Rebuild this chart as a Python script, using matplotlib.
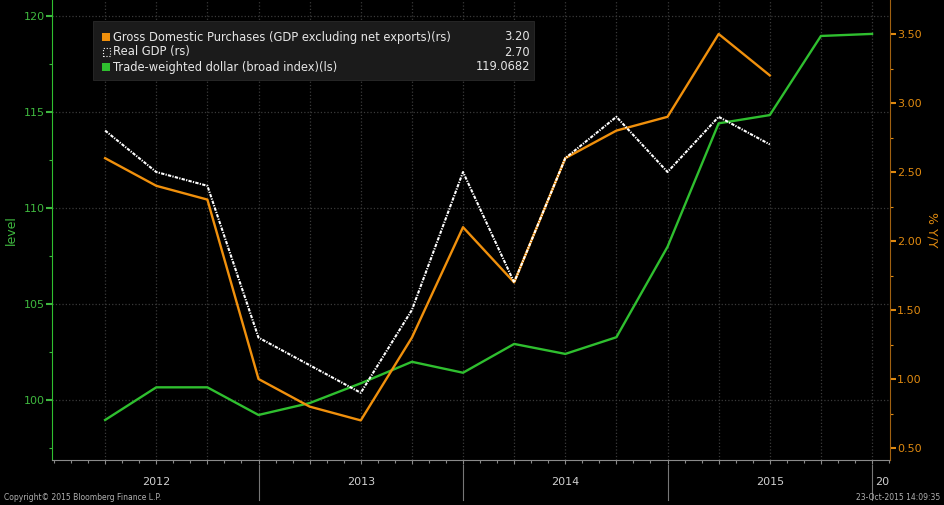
import matplotlib
matplotlib.use("Agg")
import matplotlib.pyplot as plt
from matplotlib.patches import Rectangle
from matplotlib.ticker import MultipleLocator

# quarterly data, points sit at quarter end
quarters = ['2012Q1', '2012Q2', '2012Q3', '2012Q4',
            '2013Q1', '2013Q2', '2013Q3', '2013Q4',
            '2014Q1', '2014Q2', '2014Q3', '2014Q4',
            '2015Q1', '2015Q2', '2015Q3', '2015Q4']
gdp_purchases = [2.6, 2.4, 2.3, 1.0, 0.8, 0.7, 1.3, 2.1, 1.7, 2.6, 2.8, 2.9, 3.5, 3.2]
real_gdp = [2.8, 2.5, 2.4, 1.3, 1.1, 0.9, 1.5, 2.5, 1.7, 2.6, 2.9, 2.5, 2.9, 2.7]
dollar = [98.96, 100.66, 100.66, 99.22, 99.84, 100.87, 101.99, 101.42,
          102.92, 102.40, 103.27, 107.98, 114.41, 114.84, 118.96, 119.0682]
years = [2012, 2013, 2014, 2015]

legend_names = ["Gross Domestic Purchases (GDP excluding net exports)(rs)",
                "Real GDP (rs)",
                "Trade-weighted dollar (broad index)(ls)"]
legend_values = ["3.20", "2.70", "119.0682"]

x = [int(q[:4]) + 0.25 * int(q[-1]) for q in quarters]

GREEN = '#2fbf2f'
GREEN_TXT = '#3fb83f'
ORANGE = '#f0900c'
ORANGE_TXT = '#e08a10'
GRID = '#3a3a3a'

plt.rcParams['font.family'] = ['DejaVu Sans']
W, H = 944, 505
fig = plt.figure(figsize=(W / 100, H / 100), dpi=100, facecolor='black')
ax = fig.add_axes([52 / W, 1 - 460 / H, (890 - 52) / W, 460 / H])
ax.set_facecolor('black')
ax2 = ax.twinx()
ax2.patch.set_visible(False)

ax.plot(x, dollar, color=GREEN, lw=1.7, zorder=3)
ax2.plot(x[:len(gdp_purchases)], gdp_purchases, color=ORANGE, lw=1.7, zorder=3)
ax2.plot(x[:len(real_gdp)], real_gdp, color='white', lw=1.5,
         dashes=[1.6, 0.6, 0.6, 0.6], zorder=4)

ax.set_xlim(2012 - 2 / 205, 2012 + 838 / 205)
ax.set_ylim(100 - 60 / 19.2, 120 + 16 / 19.2)
ax2.set_ylim(0.5 - 12 / 138, 3.5 + 34 / 138)

# grid
ax.set_xticks(x)
ax.xaxis.set_minor_locator(MultipleLocator(1 / 12))
ax.set_yticks([100, 105, 110, 115, 120])
ax.yaxis.set_minor_locator(MultipleLocator(2.5))
ax.grid(True, which='major', color=GRID, linestyle=':', lw=0.9)
ax.tick_params(axis='x', which='both', labelbottom=False, color='#888888',
               length=3, width=0.8)
ax.tick_params(axis='x', which='minor', length=2)
ax.tick_params(axis='y', which='major', colors=GREEN_TXT, labelsize=8,
               length=4, width=1.5, pad=1)
ax.tick_params(axis='y', which='minor', color=GREEN_TXT, length=2, width=0.8)

ax2.set_yticks([0.5, 1.0, 1.5, 2.0, 2.5, 3.0, 3.5])
ax2.set_yticklabels(['%.2f' % v for v in ax2.get_yticks()])
ax2.yaxis.set_minor_locator(MultipleLocator(0.25))
ax2.tick_params(axis='y', which='major', colors=ORANGE_TXT, labelsize=8,
                length=4, width=1.5, pad=1)
ax2.tick_params(axis='y', which='minor', color=ORANGE_TXT, length=2, width=0.8)

for a in (ax, ax2):
    for s in a.spines.values():
        s.set_visible(False)
ax.spines['left'].set_visible(True)
ax.spines['left'].set_color(GREEN)
ax.spines['bottom'].set_visible(True)
ax.spines['bottom'].set_color('#8a8a8a')
ax2.spines['right'].set_visible(True)
ax2.spines['right'].set_color('#a06010')

ax.set_ylabel('level', color=GREEN_TXT, fontsize=9, labelpad=4)
ax2.set_ylabel('% Y/Y', color=ORANGE_TXT, fontsize=9, rotation=270, labelpad=12)

# year labels and separators below the axis
trans = ax.get_xaxis_transform()
for yr in years:
    ax.text(yr + 0.5, -0.048, str(yr), transform=trans, ha='center', va='center',
            color='#cfcfcf', fontsize=8)
for yr in years:
    ax.plot([yr + 1, yr + 1], [-0.011, -0.087], transform=trans, color='#777777',
            lw=0.8, clip_on=False)
ax.text(2016 + 3 / 205, -0.048, '20', transform=trans, ha='left', va='center',
        color='#cfcfcf', fontsize=8)

# legend box
def fx(px):
    return px / W

def fy(py):
    return 1 - py / H

fig.patches.append(Rectangle((fx(93), fy(80)), fx(534) - fx(93), fy(21) - fy(80),
                             transform=fig.transFigure, facecolor='#1b1b1b',
                             edgecolor='#2a2a2a', lw=0.6, zorder=5))
rows = [37, 52, 67]
for i, (name, val) in enumerate(zip(legend_names, legend_values)):
    py = rows[i]
    if i == 0:
        fig.patches.append(Rectangle((fx(102), fy(py + 4)), 8 / W, 8 / H,
                                     transform=fig.transFigure, facecolor=ORANGE,
                                     edgecolor='none', zorder=6))
    elif i == 1:
        fig.patches.append(Rectangle((fx(102.5), fy(py + 3.5)), 7 / W, 7 / H,
                                     transform=fig.transFigure, facecolor='none',
                                     edgecolor='white', lw=0.8, linestyle=':',
                                     zorder=6))
    else:
        fig.patches.append(Rectangle((fx(102), fy(py + 4)), 8 / W, 8 / H,
                                     transform=fig.transFigure, facecolor=GREEN,
                                     edgecolor='none', zorder=6))
    fig.text(fx(113), fy(py), name, color='#e6e6e6', fontsize=8.3, va='center',
             ha='left', zorder=7)
    fig.text(fx(530), fy(py), val, color='#e6e6e6', fontsize=8.3, va='center',
             ha='right', zorder=7)

# footer
fig.text(fx(4), fy(497), 'Copyright\u00a9 2015 Bloomberg Finance L.P.', color='#b0b0b0',
         fontsize=5.5, va='center', ha='left')
fig.text(fx(940), fy(497), '23-Oct-2015 14:09:35', color='#b0b0b0',
         fontsize=5.5, va='center', ha='right')

fig.savefig('out.png', dpi=100, facecolor='black')
